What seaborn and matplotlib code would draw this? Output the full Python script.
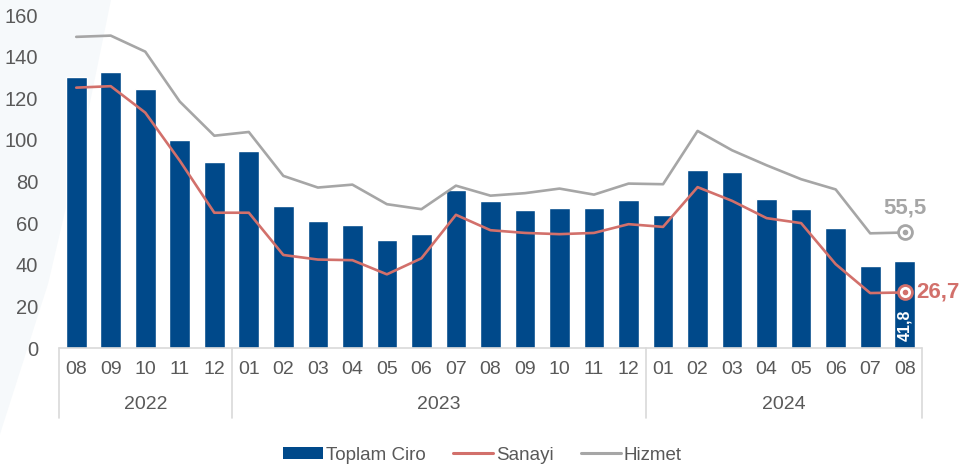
import numpy as np
import pandas as pd
import matplotlib
matplotlib.use("Agg")
import matplotlib.pyplot as plt
import matplotlib.transforms as mtransforms
from matplotlib.patches import Patch, Polygon
from matplotlib.lines import Line2D
import seaborn as sns

# ── Datos ─────────────────────────────────────────────────────────────────────
periods = ["2022-08", "2022-09", "2022-10", "2022-11", "2022-12",
           "2023-01", "2023-02", "2023-03", "2023-04", "2023-05", "2023-06",
           "2023-07", "2023-08", "2023-09", "2023-10", "2023-11", "2023-12",
           "2024-01", "2024-02", "2024-03", "2024-04", "2024-05", "2024-06",
           "2024-07", "2024-08"]
months = [p[-2:] for p in periods]
years = ["2022", "2023", "2024"]

toplam_ciro = [130.0, 132.4, 124.4, 100.0, 89.6,
               94.7, 68.1, 61.2, 59.0, 51.9, 55.0,
               75.8, 70.5, 66.5, 67.4, 67.4, 71.0,
               64.1, 85.6, 84.5, 71.6, 67.0, 57.7, 39.4, 41.8]
sanayi = [125.1, 125.8, 113.1, 90.0, 65.0,
          65.0, 44.7, 42.5, 42.2, 35.4, 43.1,
          64.0, 56.6, 55.3, 54.7, 55.3, 59.5,
          58.2, 77.3, 70.7, 62.4, 60.0, 40.3, 26.4, 26.7]
hizmet = [149.5, 150.1, 142.4, 118.4, 102.0,
          103.8, 82.7, 77.1, 78.5, 69.1, 66.7,
          78.0, 73.2, 74.4, 76.6, 73.7, 79.0,
          78.7, 104.3, 95.0, 87.8, 81.1, 76.2, 55.1, 55.5]

df = pd.DataFrame({"period": periods, "toplam": toplam_ciro,
                   "sanayi": sanayi, "hizmet": hizmet})
df["pos"] = np.arange(len(df))
df["year"] = df["period"].str[:4]

BLUE = "#00498a"
RED = "#d2706b"
GRAY = "#a6a6a6"
TXT = "#595959"

sns.set_theme(style="white")
plt.rcParams["font.family"] = ["Liberation Sans", "DejaVu Sans"]

fig = plt.figure(figsize=(9.65, 4.72), dpi=100)

# fondo decorativo muy claro a la izquierda (detrás de todo)
fig.patches.append(Polygon([(0.0, 1.0), (0.115, 1.0), (0.09, 0.75), (0.05, 0.4),
                            (0.0, 0.08)], closed=True, transform=fig.transFigure,
                           facecolor="#f6f9fb", edgecolor="none", zorder=-10))

ax = fig.add_axes([0.0611, 0.2627, 0.8943, 0.7055])
ax.patch.set_alpha(0)

# ── Barras y líneas ───────────────────────────────────────────────────────────
sns.barplot(data=df, x="period", y="toplam", color=BLUE, width=0.6,
            saturation=1, ax=ax, zorder=2)
sns.lineplot(data=df, x="pos", y="sanayi", color=RED, linewidth=1.9, ax=ax, zorder=3)
sns.lineplot(data=df, x="pos", y="hizmet", color=GRAY, linewidth=1.9, ax=ax, zorder=3)

ax.set_xlim(-0.5, len(df) - 0.5)
ax.set_ylim(0, 160)
ax.set_yticks(np.arange(0, 161, 20))
ax.tick_params(axis="y", length=0, pad=15, labelsize=14.5, labelcolor=TXT)
ax.set_xticks([])
ax.set_xlabel("")
ax.set_ylabel("")
for s in ax.spines.values():
    s.set_visible(False)

# ── Eje de categorías en dos niveles ──────────────────────────────────────────
trans = mtransforms.blended_transform_factory(ax.transData, ax.transAxes)
line_c = "#d9d9d9"
ax.add_line(Line2D([-0.5, len(df) - 0.5], [0, 0], transform=trans, color=line_c,
                   lw=1.2, clip_on=False))
bounds = [-0.5]
for i in range(1, len(df)):
    if df["year"][i] != df["year"][i - 1]:
        bounds.append(i - 0.5)
bounds.append(len(df) - 0.5)
for b in bounds:
    ax.add_line(Line2D([b, b], [0, -0.21], transform=trans, color=line_c,
                       lw=1.2, clip_on=False))
for i, m in enumerate(months):
    ax.text(i, -0.066, m, transform=trans, ha="center", va="center",
            fontsize=14, color=TXT)
for k, yr in enumerate(years):
    ax.text((bounds[k] + bounds[k + 1]) / 2, -0.17, yr, transform=trans,
            ha="center", va="center", fontsize=14, color=TXT)

# ── Etiquetas del último dato ─────────────────────────────────────────────────
last = len(df) - 1
for col, c in [("hizmet", GRAY), ("sanayi", RED)]:
    ax.plot(last, df[col][last], marker="o", ms=10, mfc="white", mec=c, mew=2,
            zorder=5)
    ax.plot(last, df[col][last], marker="o", ms=3, color=c, zorder=6)

ax.annotate(f"{hizmet[-1]:.1f}".replace(".", ","), (last, hizmet[-1]),
            xytext=(0, 10), textcoords="offset points", ha="center", va="bottom",
            fontsize=16, fontweight="bold", color=GRAY)
ax.annotate(f"{sanayi[-1]:.1f}".replace(".", ","), (last, sanayi[-1]),
            xytext=(8, 0), textcoords="offset points", ha="left", va="center",
            fontsize=16, fontweight="bold", color=RED)
ax.text(last, 11, f"{toplam_ciro[-1]:.1f}".replace(".", ","), rotation=90,
        ha="center", va="center", fontsize=11.5, fontweight="bold", color="white",
        zorder=4)

# ── Leyenda ───────────────────────────────────────────────────────────────────
handles = [Patch(facecolor=BLUE, edgecolor="none"),
           Line2D([], [], color=RED, lw=2.2),
           Line2D([], [], color=GRAY, lw=2.2)]
fig.legend(handles, ["Toplam Ciro", "Sanayi", "Hizmet"], loc="center",
           bbox_to_anchor=(0.5, 0.036), ncol=3, frameon=False, fontsize=13.5,
           handlelength=2.1, handleheight=0.6, handletextpad=0.15,
           columnspacing=1.5, labelcolor=TXT)

fig.savefig("out.png", dpi=100)
